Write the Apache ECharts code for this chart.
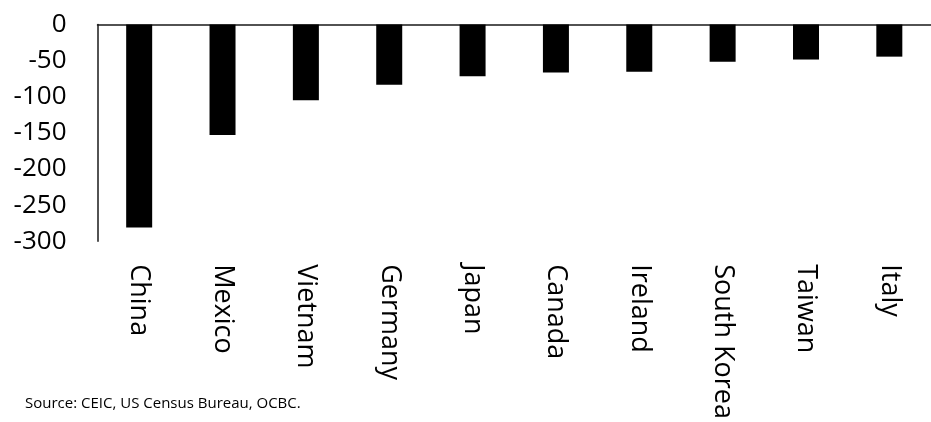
<!DOCTYPE html>
<html>
<head>
<meta charset="utf-8">
<script src="https://cdn.jsdelivr.net/npm/echarts@6/dist/echarts.min.js"></script>
<style>
  html, body { margin: 0; padding: 0; background: #fff; }
  #chart { width: 931px; height: 422px; }
</style>
</head>
<body>
<div id="chart"></div>
<script>
// US trade balance by partner (USD bn)
const countries = ['China', 'Mexico', 'Vietnam', 'Germany', 'Japan', 'Canada', 'Ireland', 'South Korea', 'Taiwan', 'Italy'];
const balance = [-281, -153, -105, -83.5, -71.5, -66.5, -65.5, -51.5, -48.5, -44.5];
const yTicks = [0, -50, -100, -150, -200, -250, -300];
const sourceNote = 'Source: CEIC, US Census Bureau, OCBC.';

const chart = echarts.init(document.getElementById('chart'), null, { renderer: 'canvas' });

chart.setOption({
  animation: false,
  backgroundColor: '#ffffff',
  grid: { left: 97.5, right: -6.5, top: 24.5, bottom: 179, containLabel: false },
  xAxis: [
    {
      type: 'category',
      data: countries,
      position: 'bottom',
      axisLine: { show: false, onZero: false },
      axisTick: { show: false },
      axisLabel: {
        rotate: -90,
        margin: 23,
        fontFamily: 'Open Sans',
        fontSize: 27,
        color: '#000'
      }
    },
    {
      // zero line along the top edge of the plot
      type: 'category',
      data: countries,
      position: 'top',
      axisLine: { show: true, onZero: false, lineStyle: { color: '#1a1a1a', width: 1.5 } },
      axisTick: { show: false },
      axisLabel: { show: false }
    }
  ],
  yAxis: {
    type: 'value',
    min: yTicks[yTicks.length - 1],
    max: yTicks[0],
    interval: 50,
    axisLine: { show: true, lineStyle: { color: '#1a1a1a', width: 1.5 } },
    axisTick: { show: false },
    splitLine: { show: false },
    axisLabel: {
      margin: 31,
      fontFamily: 'Open Sans',
      fontSize: 26,
      color: '#000'
    }
  },
  series: [{
    type: 'bar',
    data: balance,
    xAxisIndex: 0,
    barWidth: 26,
    itemStyle: { color: '#000' }
  }],
  graphic: [{
    type: 'text',
    left: 25,
    top: 396,
    style: {
      text: sourceNote,
      fontFamily: 'Open Sans',
      fontSize: 15,
      fill: '#000'
    }
  }]
});
</script>
</body>
</html>
